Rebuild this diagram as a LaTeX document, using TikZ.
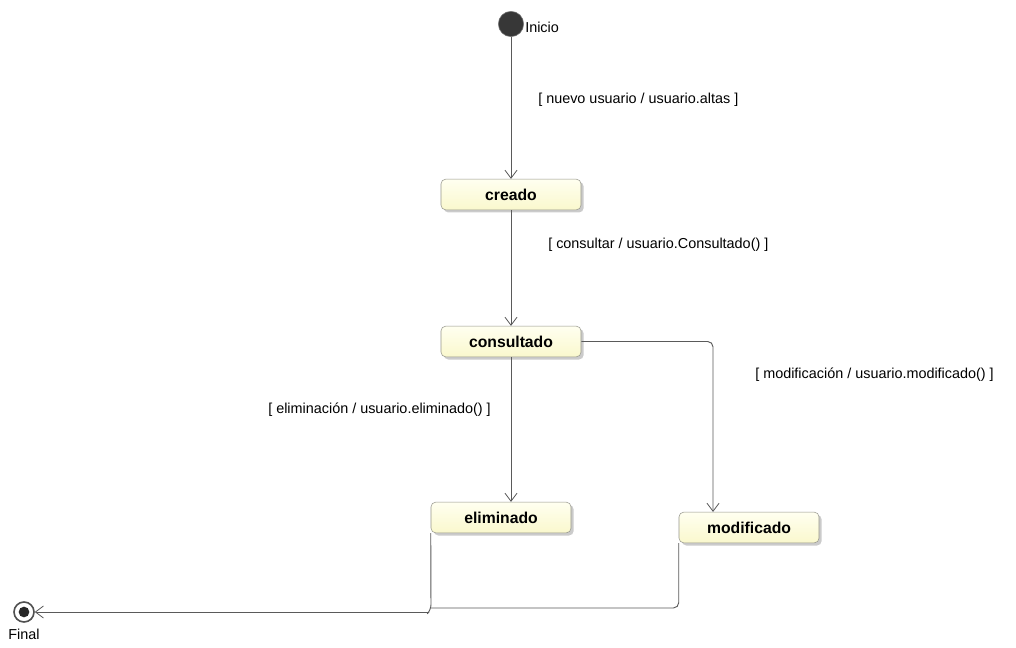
\documentclass[tikz,border=0pt]{standalone}
\usepackage{fontspec}
\setmainfont{Liberation Sans}
\usetikzlibrary{arrows.meta,shadows}
\definecolor{boxline}{RGB}{150,150,140}
\definecolor{linec}{RGB}{90,90,90}
\begin{document}
\begin{tikzpicture}[x=0.75pt,y=-0.75pt,
  state/.style={draw=boxline, rounded corners=3.5pt, minimum width=105pt, minimum height=23pt,
    top color={rgb,255:red,255;green,255;blue,240}, bottom color={rgb,255:red,250;green,248;blue,205},
    drop shadow={shadow xshift=2pt, shadow yshift=-2pt, fill=black!40},
    font=\fontsize{11.8}{13}\selectfont\bfseries, inner sep=0pt},
  trans/.style={draw=linec, line width=0.7pt, -{Straight Barb[length=6pt,width=9pt,line width=0.6pt]}},
  plain/.style={draw=linec, line width=0.7pt, rounded corners=4pt},
  lbl/.style={font=\fontsize{10.8}{12}\selectfont, inner sep=0pt, anchor=west}]
\useasboundingbox[fill=white] (0,0) rectangle (1016,648);
% initial
\node[circle, fill={rgb,255:red,55;green,55;blue,55}, draw={rgb,255:red,120;green,120;blue,120}, minimum size=19pt, inner sep=0pt] (ini) at (511,24) {};
\node[lbl] (inilbl) at (525,27) {Inicio};
% states
\node[state] (creado) at (511,194.5) {creado};
\node[state] (consultado) at (511,341.5) {consultado};
\node[state] (eliminado) at (501,517.5) {eliminado};
\node[state] (modificado) at (749,527.5) {modificado};
% final
\node[circle, draw={rgb,255:red,80;green,80;blue,80}, fill=white, line width=1.2pt, minimum size=15pt, inner sep=0pt] (fin) at (24,612) {};
\node[circle, fill={rgb,255:red,40;green,40;blue,40}, minimum size=8pt, inner sep=0pt] (fininner) at (24,612) {};
\node[lbl, anchor=center] (finlbl) at (24,634) {Final};
% transitions
\draw[trans] (ini) -- (creado.north);
\node[lbl] (l1) at (538,100) {[ nuevo usuario / usuario.altas ]};
\draw[trans] (creado.south) -- (consultado.north);
\node[lbl] (l2) at (548,245) {[ consultar / usuario.Consultado() ]};
\draw[trans] (consultado.south) -- (consultado.south |- eliminado.north);
\node[lbl] (l3) at (268,410) {[ eliminación / usuario.eliminado() ]};
\coordinate (mc) at (713,341.5);
\draw[trans, rounded corners=4pt] (consultado.east) -- (mc) -- (mc |- modificado.north);
\node[lbl] (l4) at (755,375) {[ modificación / usuario.modificado() ]};
% to final
\coordinate (ej) at (431,610);
\draw[plain] (modificado.south west) -- (modificado.south west |- 0,608) -- (431,608);
\draw[plain] (eliminado.south west) -- (ej) -- (429,612);
\draw[trans] (429,612) -- (fin.east);
\end{tikzpicture}
\end{document}
